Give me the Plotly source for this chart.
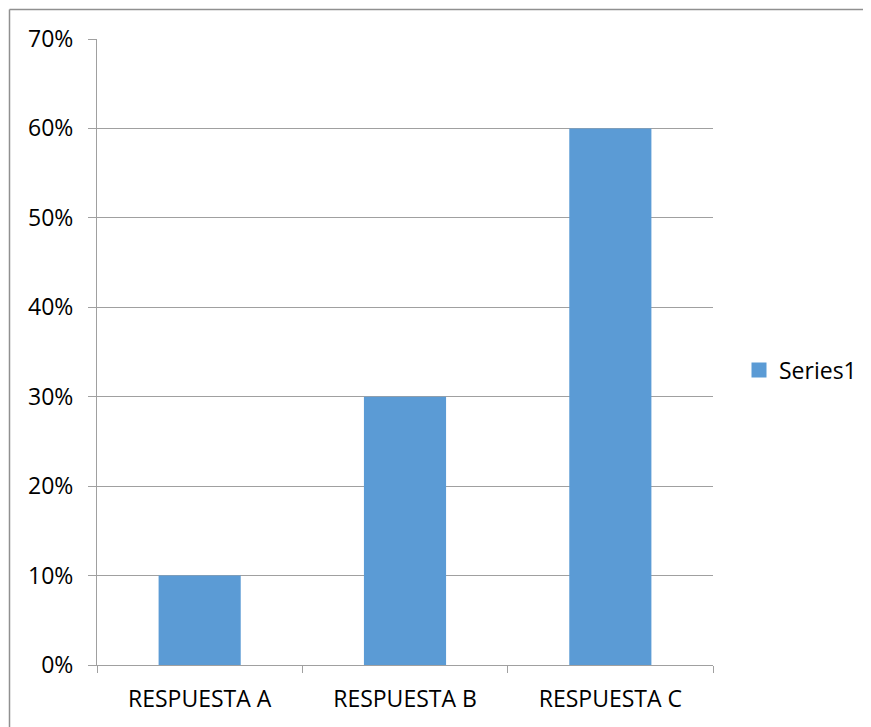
import plotly.graph_objects as go

categories = ["RESPUESTA A", "RESPUESTA B", "RESPUESTA C"]
values = [0.10, 0.30, 0.60]
series_name = "Series1"
y_ticks = [0, 0.1, 0.2, 0.3, 0.4, 0.5, 0.6, 0.7]
BAR_COLOR = "#5B9BD5"

fig = go.Figure()
fig.add_trace(go.Bar(x=categories, y=values, name=series_name,
                     marker=dict(color=BAR_COLOR, line=dict(width=0)),
                     showlegend=False))
# legend entry with a larger square symbol
fig.add_trace(go.Scatter(x=[None], y=[None], mode="markers", name=series_name,
                         marker=dict(symbol="square", size=15, color=BAR_COLOR),
                         showlegend=True))

# page has an 8px body margin -> figure is 8px smaller and shifted
W, H = 863, 719
ml, mt = 89, 31
pw, ph = 616, 626
mr = W - ml - pw
mb = H - mt - ph
OFF = 8
FONT = "Open Sans, Liberation Sans, sans-serif"
leg_left = 739 - OFF - ml
leg_mid = 370 - OFF - mt
fig.update_layout(
    width=W, height=H,
    margin=dict(l=ml, r=mr, t=mt, b=mb, autoexpand=False),
    paper_bgcolor="white", plot_bgcolor="white",
    font=dict(family=FONT, size=23, color="#000000"),
    bargap=0.6,
    showlegend=True,
    legend=dict(x=leg_left / pw, y=1 - leg_mid / ph, xanchor="left", yanchor="middle",
                font=dict(size=23), itemwidth=30, bgcolor="rgba(0,0,0,0)"),
    xaxis=dict(showline=True, linecolor="#a0a0a0", linewidth=1,
               ticks="outside", tickson="boundaries", ticklen=7, tickcolor="#a0a0a0",
               showgrid=False, tickfont=dict(size=23), ticklabelstandoff=13),
    yaxis=dict(range=[0, 0.7], tickvals=y_ticks, tickformat=".0%",
               showline=True, linecolor="#a0a0a0", linewidth=1,
               ticks="outside", ticklen=8, tickcolor="#a0a0a0",
               showgrid=True, gridcolor="#a0a0a0", gridwidth=1,
               zeroline=False, tickfont=dict(size=23), ticklabelstandoff=10),
)

# chart frame: only left and top edges are visible in the picture
fx0 = (1.5 - ml) / pw
fy1 = 1 - (1.5 - mt) / ph
frame = dict(color="#909090", width=1.5)
fig.add_shape(type="line", xref="paper", yref="paper",
              x0=fx0, x1=fx0, y0=-0.2, y1=fy1, line=frame, layer="below")
fig.add_shape(type="line", xref="paper", yref="paper",
              x0=fx0, x1=1.5, y0=fy1, y1=fy1, line=frame, layer="below")

fig.write_html("out.html")
